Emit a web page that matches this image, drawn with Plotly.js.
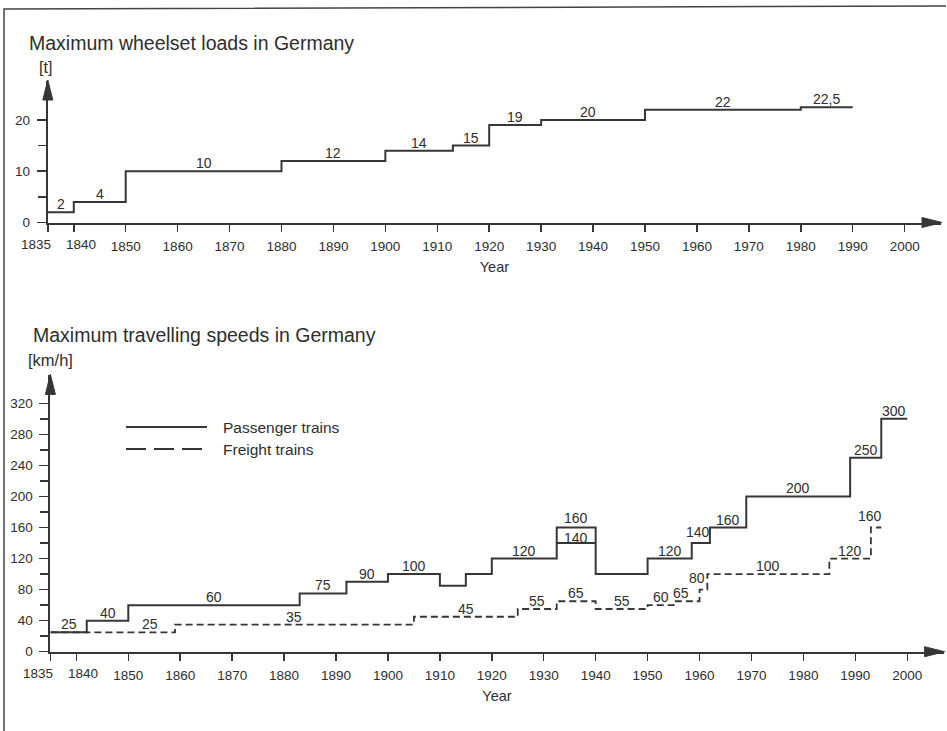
<!DOCTYPE html>
<html>
<head>
<meta charset="utf-8">
<script src="https://cdn.plot.ly/plotly-3.0.1.min.js"></script>
<style>html,body{margin:0;padding:0;background:#fff;}#chart{width:947px;height:731px;}</style>
</head>
<body>
<div id="chart"></div>
<script>
// ---------------- DATA ----------------
// Maximum wheelset loads [t]
const loadYears   = [1835, 1840, 1850, 1880, 1900, 1913, 1920, 1930, 1950, 1980];
const loadEndYear = 1990;
const loadValues  = [2, 4, 10, 12, 14, 15, 19, 20, 22, 22.5];
const loadLabels  = ['2', '4', '10', '12', '14', '15', '19', '20', '22', '22,5'];

// Maximum travelling speeds [km/h] – passenger trains
const passYears   = [1835, 1842, 1850, 1883, 1892, 1900, 1910, 1915, 1920, 1932.5, 1940, 1950, 1958.5, 1962, 1969, 1989, 1995];
const passEndYear = 2000;
const passValues  = [25, 40, 60, 75, 90, 100, 85, 100, 120, 160, 100, 120, 140, 160, 200, 250, 300];
const passLabels  = ['25', '40', '60', '75', '90', '100', '', '', '120', '160', '', '120', '140', '160', '200', '250', '300'];
// second passenger level during 1932.5–1940 (regular 140 vs. special 160)
const passAltYears  = [1932.5];
const passAltEnd    = 1940;
const passAltValues = [140];
const passAltLabels = ['140'];

// freight trains
const freightYears   = [1835, 1859, 1905, 1925, 1932.5, 1940, 1950, 1955, 1960, 1961.5, 1985, 1993];
const freightEndYear = 1995;
const freightValues  = [25, 35, 45, 55, 65, 55, 60, 65, 80, 100, 120, 160];
const freightLabels  = ['25', '35', '45', '55', '65', '55', '60', '65', '80', '100', '120', '160'];

// axis ticks
const xTickVals     = [1835, 1840, 1850, 1860, 1870, 1880, 1890, 1900, 1910, 1920, 1930, 1940, 1950, 1960, 1970, 1980, 1990, 2000];
const loadTickVals  = [0, 10, 20];
const loadMinorVals = [5, 15];
const speedTickVals = [0, 40, 80, 120, 160, 200, 240, 280, 320];
const speedMinorVals= [20, 60, 100, 140, 180, 220, 260, 300];

// ---------------- STYLE / LAYOUT ----------------
const W = 947, H = 731;
const FONT = "'Liberation Sans', Arial, sans-serif";
const INK = '#363636';
const TXT = '#2e2e2e';
const topBox = {x0: 47.8, x1: 941.0, y0: 222.5, y1: 81.0};   // pixel box of upper plot
const botBox = {x0: 50.4, x1: 943.6, y0: 651.7, y1: 375.4};  // pixel box of lower plot
const xRange = [1835, 2007];
const loadRange = [0, 27.6];
const speedRange = [0, 356];
const LABEL_SIZE = 14, TICK_SIZE = 13.5, TITLE_SIZE = 19.5, LEGEND_SIZE = 15.5;
// per-label pixel nudges {index: [dx, dy]}
const loadNudge = {7: [-5, 0]};
const passNudge = {9: [0, 2], 12: [-3, 3]};
const passAltNudge = {0: [0, -3]};
const freightNudge = {0: [37, 0], 7: [-6, 0], 8: [-6, 4], 11: [-6, 4]};

function px(x) { return x / W; }
function py(y) { return 1 - y / H; }

function stepXY(years, end, values) {
  return {x: years.concat([end]), y: values.concat([values[values.length - 1]])};
}

const L = stepXY(loadYears, loadEndYear, loadValues);
const P = stepXY(passYears, passEndYear, passValues);
const PA = stepXY(passAltYears, passAltEnd, passAltValues);
const F = stepXY(freightYears, freightEndYear, freightValues);

const traces = [
  {x: L.x, y: L.y, xaxis: 'x', yaxis: 'y', type: 'scatter', mode: 'lines', name: 'Wheelset load',
   line: {shape: 'hv', color: INK, width: 2}, showlegend: false},
  {x: F.x, y: F.y, xaxis: 'x2', yaxis: 'y2', type: 'scatter', mode: 'lines', name: 'Freight trains',
   line: {shape: 'hv', color: INK, width: 1.8, dash: '7px,4px'}, showlegend: false},
  {x: P.x, y: P.y, xaxis: 'x2', yaxis: 'y2', type: 'scatter', mode: 'lines', name: 'Passenger trains',
   line: {shape: 'hv', color: INK, width: 2}, showlegend: false},
  {x: PA.x, y: PA.y, xaxis: 'x2', yaxis: 'y2', type: 'scatter', mode: 'lines', name: 'Passenger trains (regular)',
   line: {shape: 'hv', color: INK, width: 2}, showlegend: false}
];

const annotations = [];
function addStepLabels(years, end, values, labels, xr, yr, nudge) {
  for (let i = 0; i < years.length; i++) {
    if (!labels[i]) continue;
    const x1 = (i + 1 < years.length) ? years[i + 1] : end;
    const n = (nudge && nudge[i]) || [0, 0];
    annotations.push({
      x: (years[i] + x1) / 2, y: values[i], xref: xr, yref: yr,
      text: labels[i], showarrow: false, xanchor: 'center', yanchor: 'bottom',
      xshift: n[0], yshift: -2 + n[1],
      font: {family: FONT, size: LABEL_SIZE, color: TXT}
    });
  }
}
addStepLabels(loadYears, loadEndYear, loadValues, loadLabels, 'x', 'y', loadNudge);
addStepLabels(passYears, passEndYear, passValues, passLabels, 'x2', 'y2', passNudge);
addStepLabels(passAltYears, passAltEnd, passAltValues, passAltLabels, 'x2', 'y2', passAltNudge);
addStepLabels(freightYears, freightEndYear, freightValues, freightLabels, 'x2', 'y2', freightNudge);

// first two x tick labels drawn shifted apart (as in the original)
const firstTickShift = {1835: -12, 1840: 7};
[['x', 'y'], ['x2', 'y2']].forEach(function (r) {
  Object.keys(firstTickShift).forEach(function (k) {
    annotations.push({
      x: +k, y: 0, xref: r[0], yref: r[1], text: String(k), showarrow: false,
      xanchor: 'center', yanchor: 'top', xshift: firstTickShift[k], yshift: -12,
      font: {family: FONT, size: TICK_SIZE, color: TXT}
    });
  });
});

// titles / units
annotations.push({x: px(31), y: py(335), xref: 'paper', yref: 'paper', xanchor: 'left', yanchor: 'middle',
  text: 'Maximum travelling speeds in Germany', showarrow: false, font: {family: FONT, size: TITLE_SIZE, color: TXT}});
annotations.push({x: px(37), y: py(67), xref: 'paper', yref: 'paper', xanchor: 'left', yanchor: 'middle',
  text: '[t]', showarrow: false, font: {family: FONT, size: 16, color: TXT}});
annotations.push({x: px(26), y: py(360), xref: 'paper', yref: 'paper', xanchor: 'left', yanchor: 'middle',
  text: '[km/h]', showarrow: false, font: {family: FONT, size: 16.5, color: TXT}});
// legend texts
annotations.push({x: px(221), y: py(427), xref: 'paper', yref: 'paper', xanchor: 'left', yanchor: 'middle',
  text: 'Passenger trains', showarrow: false, font: {family: FONT, size: LEGEND_SIZE, color: TXT}});
annotations.push({x: px(221), y: py(449), xref: 'paper', yref: 'paper', xanchor: 'left', yanchor: 'middle',
  text: 'Freight trains', showarrow: false, font: {family: FONT, size: LEGEND_SIZE, color: TXT}});

function tri(tx, ty, dir) {
  // arrow head: tip at pixel (tx,ty), length 20px, half-width 5px
  let a, b;
  if (dir === 'right') { a = [tx - 20, ty - 5]; b = [tx - 20, ty + 5]; }
  else { a = [tx - 5, ty + 20]; b = [tx + 5, ty + 20]; }
  return {type: 'path', xref: 'paper', yref: 'paper',
    path: 'M' + px(tx) + ',' + py(ty) + 'L' + px(a[0]) + ',' + py(a[1]) + 'L' + px(b[0]) + ',' + py(b[1]) + 'Z',
    fillcolor: INK, line: {color: INK, width: 1}};
}

const shapes = [
  tri(topBox.x1 + 1, topBox.y0, 'right'), tri(topBox.x0, topBox.y1 - 1, 'up'),
  tri(botBox.x1 + 1, botBox.y0, 'right'), tri(botBox.x0, botBox.y1 - 1, 'up'),
  // legend samples
  {type: 'line', xref: 'paper', yref: 'paper', x0: px(126), x1: px(207), y0: py(427), y1: py(427), line: {color: INK, width: 2}},
  {type: 'line', xref: 'paper', yref: 'paper', x0: px(126), x1: px(207), y0: py(449), y1: py(449), line: {color: INK, width: 2, dash: '20px,8px'}},
  // page frame (left + top)
  {type: 'path', xref: 'paper', yref: 'paper', path: 'M' + px(4) + ',' + py(731) + 'L' + px(4) + ',' + py(9) + 'L' + px(946) + ',' + py(6),
   line: {color: '#444', width: 1.5}}
];

function xAxis(box, anchor) {
  return {
    domain: [px(box.x0), px(box.x1)], range: xRange, anchor: anchor,
    tickmode: 'array', tickvals: xTickVals,
    ticktext: xTickVals.map(function (v) { return (v in firstTickShift) ? '' : String(v); }),
    ticks: 'outside', ticklen: 7, tickwidth: 1.5, tickcolor: INK, ticklabelstandoff: 3,
    showline: true, linewidth: 2, linecolor: INK, showgrid: false, zeroline: false,
    tickfont: {family: FONT, size: TICK_SIZE, color: TXT},
    title: {text: 'Year', font: {family: FONT, size: 14.5, color: TXT}, standoff: 9},
    fixedrange: true
  };
}
function yAxis(box, range, vals, minor, anchor) {
  return {
    domain: [py(box.y0), py(box.y1)], range: range, anchor: anchor,
    tickmode: 'array', tickvals: vals, ticktext: vals.map(String),
    ticks: 'outside', ticklen: 9, tickwidth: 1.5, tickcolor: INK, ticklabelstandoff: 4,
    minor: {tickmode: 'array', tickvals: minor, ticks: 'outside', ticklen: 8, tickwidth: 1.5, tickcolor: INK, showgrid: false},
    showline: true, linewidth: 2, linecolor: INK, showgrid: false, zeroline: false,
    tickfont: {family: FONT, size: TICK_SIZE, color: TXT},
    fixedrange: true
  };
}

const layout = {
  width: W, height: H, margin: {l: 0, r: 0, t: 0, b: 0, pad: 0},
  paper_bgcolor: '#ffffff', plot_bgcolor: 'rgba(0,0,0,0)',
  showlegend: false,
  title: {text: 'Maximum wheelset loads in Germany', x: px(29), xanchor: 'left', xref: 'paper',
          y: py(43), yanchor: 'middle', yref: 'paper', font: {family: FONT, size: TITLE_SIZE, color: TXT}},
  xaxis: xAxis(topBox, 'y'),
  yaxis: yAxis(topBox, loadRange, loadTickVals, loadMinorVals, 'x'),
  xaxis2: xAxis(botBox, 'y2'),
  yaxis2: yAxis(botBox, speedRange, speedTickVals, speedMinorVals, 'x2'),
  annotations: annotations,
  shapes: shapes
};

Plotly.newPlot('chart', traces, layout, {displayModeBar: false, staticPlot: true});
</script>
</body>
</html>
